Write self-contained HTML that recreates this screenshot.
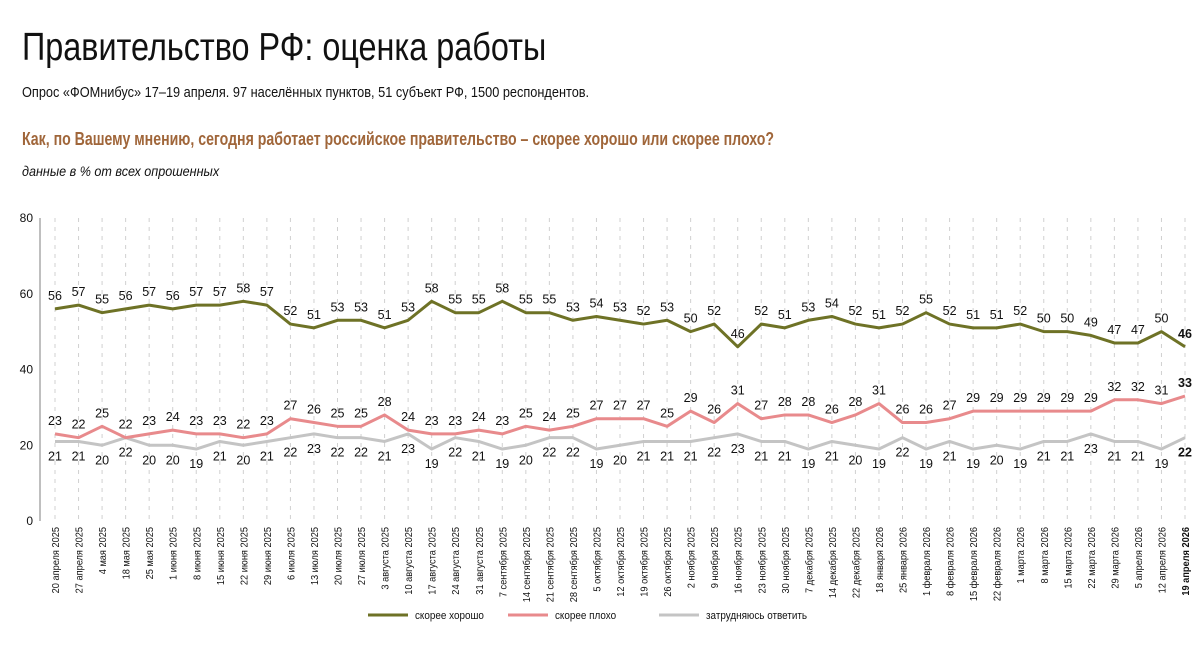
<!DOCTYPE html>
<html><head><meta charset="utf-8">
<style>
body{margin:0;background:#fff;width:1200px;height:668px;overflow:hidden;font-family:"Liberation Sans",sans-serif;color:#111}
.h{position:absolute;left:22px;transform-origin:0 0;white-space:nowrap}
.t{top:26px;font-size:39px;transform:scaleX(0.83)}
.s{top:84px;font-size:15px;transform:scaleX(0.85)}
.q{top:129px;font-size:18px;font-weight:bold;color:#a0663a;transform:scaleX(0.785)}
.n{top:163px;font-size:14px;font-style:italic;transform:scaleX(0.9)}
svg{position:absolute;left:0;top:0}
</style></head><body>
<div class="h t">Правительство РФ: оценка работы</div>
<div class="h s">Опрос «ФОМнибус» 17–19 апреля. 97 населённых пунктов, 51 субъект РФ, 1500 респондентов.</div>
<div class="h q">Как, по Вашему мнению, сегодня работает российское правительство – скорее хорошо или скорее плохо?</div>
<div class="h n">данные в % от всех опрошенных</div>
<svg id="c" width="1200" height="668"></svg>
<script>
const categories=["20 апреля 2025","27 апреля 2025","4 мая 2025","18 мая 2025","25 мая 2025","1 июня 2025","8 июня 2025","15 июня 2025","22 июня 2025","29 июня 2025","6 июля 2025","13 июля 2025","20 июля 2025","27 июля 2025","3 августа 2025","10 августа 2025","17 августа 2025","24 августа 2025","31 августа 2025","7 сентября 2025","14 сентября 2025","21 сентября 2025","28 сентября 2025","5 октября 2025","12 октября 2025","19 октября 2025","26 октября 2025","2 ноября 2025","9 ноября 2025","16 ноября 2025","23 ноября 2025","30 ноября 2025","7 декабря 2025","14 декабря 2025","22 декабря 2025","18 января 2026","25 января 2026","1 февраля 2026","8 февраля 2026","15 февраля 2026","22 февраля 2026","1 марта 2026","8 марта 2026","15 марта 2026","22 марта 2026","29 марта 2026","5 апреля 2026","12 апреля 2026","19 апреля 2026"];
const good=[56,57,55,56,57,56,57,57,58,57,52,51,53,53,51,53,58,55,55,58,55,55,53,54,53,52,53,50,52,46,52,51,53,54,52,51,52,55,52,51,51,52,50,50,49,47,47,50,46];
const bad=[23,22,25,22,23,24,23,23,22,23,27,26,25,25,28,24,23,23,24,23,25,24,25,27,27,27,25,29,26,31,27,28,28,26,28,31,26,26,27,29,29,29,29,29,29,32,32,31,33];
const unsure=[21,21,20,22,20,20,19,21,20,21,22,23,22,22,21,23,19,22,21,19,20,22,22,19,20,21,21,21,22,23,21,21,19,21,20,19,22,19,21,19,20,19,21,21,23,21,21,19,22];
const yTicks=[0,20,40,60,80];
const seriesNames=["скорее хорошо","скорее плохо","затрудняюсь ответить"];
const svg=document.getElementById('c');const NS='http://www.w3.org/2000/svg';
const X=i=>55+i*(1185-55)/(categories.length-1);
const Y=v=>521-v*(521-218)/80;
function mk(t,a,txt){const e=document.createElementNS(NS,t);for(const k in a)e.setAttribute(k,a[k]);if(txt!==undefined)e.textContent=txt;svg.appendChild(e);return e;}
categories.forEach((c,i)=>{
 const g=mk('line',{x1:X(i),x2:X(i),y1:218,y2:521,stroke:'#d0d0d0','stroke-dasharray':'4,5','stroke-width':1});
 
 
 const last=i===categories.length-1;
 const t=mk('text',{x:0,y:0,transform:`translate(${X(i)+4},527) rotate(-90) scale(0.88,1)`,'text-anchor':'end','font-size':10.5,'font-weight':last?'bold':'normal',fill:'#111'},c);
 
 
});
const ax=mk('line',{x1:40,x2:40,y1:218,y2:521,stroke:'#aaa','stroke-width':1.5});


yTicks.forEach(v=>{
 const t=mk('text',{x:33,y:Y(v)+4,'text-anchor':'end','font-size':12,fill:'#111'},v);
 
 
});
function series(data,color,name,above){
 const p=mk('polyline',{points:data.map((v,i)=>X(i)+','+Y(v)).join(' '),fill:'none',stroke:color,'stroke-width':3,'stroke-linejoin':'round'});
 
 
 data.forEach((v,i)=>{
  const last=i===data.length-1;
  const t=mk('text',{x:X(i),y:above?Y(v)-9:Y(v)+19,'text-anchor':'middle','font-size':12.5,'font-weight':last?'bold':'normal',fill:'#111'},v);
  
  
 });
}
series(unsure,'#c4c4c4','unsure',false);
series(bad,'#e88a8c','bad',true);
series(good,'#6e7226','good',true);
const cols=['#6e7226','#e88a8c','#c4c4c4'];const lx=[368,508,659];
seriesNames.forEach((n,i)=>{
 const l=mk('line',{x1:lx[i],x2:lx[i]+40,y1:615,y2:615,stroke:cols[i],'stroke-width':3});
 
 
 const t=mk('text',{x:lx[i]+47,y:619,'font-size':11,fill:'#111',transform:`translate(${(lx[i]+47)*0.1},0) scale(0.9,1)`},n);
 
 
});
</script>
</body></html>
